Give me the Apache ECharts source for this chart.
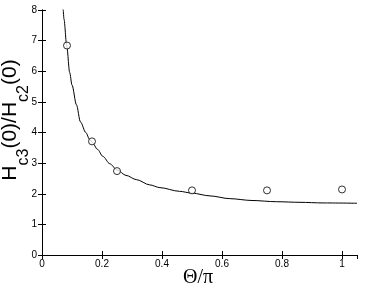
<!DOCTYPE html>
<html>
<head>
<meta charset="utf-8">
<script src="https://cdn.jsdelivr.net/npm/echarts@6/dist/echarts.min.js"></script>
<style>
html,body{margin:0;padding:0;background:#fff;}
#c{width:365px;height:291px;}
</style>
</head>
<body>
<div id="c"></div>
<script>
// Measured points (Θ/π, Hc3(0)/Hc2(0))
const pointX = [0.0833, 0.1667, 0.25, 0.5, 0.75, 1.0];
const pointY = [6.84, 3.71, 2.74, 2.11, 2.11, 2.14];

// Theory curve
const curveX = [0.068, 0.0705, 0.0733, 0.0823, 0.0923, 0.1, 0.115, 0.128, 0.146, 0.159, 0.167, 0.185, 0.203, 0.226, 0.25, 0.28, 0.315, 0.359, 0.393, 0.458, 0.5, 0.56, 0.626, 0.7, 0.781, 0.86, 0.937, 1.05];
const curveY = [8.4, 8.0, 7.7, 6.84, 5.96, 5.55, 4.9, 4.35, 4.0, 3.77, 3.68, 3.45, 3.22, 2.98, 2.78, 2.6, 2.46, 2.29, 2.2, 2.08, 2.02, 1.93, 1.84, 1.78, 1.74, 1.72, 1.70, 1.69];

const xTicks = [0, 0.2, 0.4, 0.6, 0.8, 1];
const yTicks = [0, 1, 2, 3, 4, 5, 6, 7, 8];

// Y-axis title pieces: [text, isSubscript]
const yTitleParts = [['H', false], ['c3', true], ['(0)/H', false], ['c2', true], ['(0)', false]];

const chart = echarts.init(document.getElementById('c'), null, {renderer: 'canvas'});

const SANS = 'Liberation Sans, Arial, sans-serif';
const tickFont = {fontFamily: SANS, fontSize: 10, color: '#000'};
const axisLine = {show: true, lineStyle: {color: '#000', width: 1}};
const axisTick = {show: true, inside: true, length: 4, lineStyle: {color: '#000', width: 1}};

// build rotated y title
const mainSize = 21, subSize = 16;
const ctx = document.createElement('canvas').getContext('2d');
function w(t, size) { ctx.font = size + 'px "Liberation Sans"'; return ctx.measureText(t).width; }
const widths = yTitleParts.map(p => w(p[0], p[1] ? subSize : mainSize));
const total = widths.reduce((a, b) => a + b, 0);
let cursor = -total / 2;
const titleChildren = yTitleParts.map((p, i) => {
  const el = {
    type: 'text',
    x: cursor,
    y: p[1] ? 14 : 0,
    style: {
      text: p[0], align: 'left', verticalAlign: 'middle',
      fontFamily: SANS, fontSize: p[1] ? subSize : mainSize, fill: '#000'
    }
  };
  cursor += widths[i];
  return el;
});

chart.setOption({
  backgroundColor: '#fff',
  animation: false,
  grid: {left: 42, right: 8, top: 10, bottom: 36, containLabel: false},
  xAxis: [{
    type: 'value', min: 0, max: 1.05, interval: 0.2, position: 'bottom',
    axisLine: axisLine, axisTick: axisTick, splitLine: {show: false},
    axisLabel: Object.assign({margin: 4, showMaxLabel: false,
      formatter: v => xTicks.indexOf(v) >= 0 ? String(v) : ''}, tickFont)
  }, {
    type: 'value', min: 0, max: 1.05, interval: 0.2, position: 'top',
    axisLine: axisLine, axisTick: axisTick, splitLine: {show: false},
    axisLabel: {show: false}
  }],
  yAxis: [{
    type: 'value', min: 0, max: 8, interval: 1, position: 'left',
    axisLine: axisLine, axisTick: axisTick, splitLine: {show: false},
    axisLabel: Object.assign({margin: 5, formatter: v => yTicks.indexOf(v) >= 0 ? String(v) : ''}, tickFont)
  }, {
    type: 'value', min: 0, max: 8, interval: 1, position: 'right',
    axisLine: axisLine, axisTick: axisTick, splitLine: {show: false},
    axisLabel: {show: false}
  }],
  series: [{
    type: 'line',
    data: curveX.map((x, i) => [x, curveY[i]]),
    showSymbol: false,
    smooth: 0.3,
    smoothMonotone: 'x',
    clip: true,
    lineStyle: {color: '#000', width: 1},
    silent: true
  }, {
    type: 'scatter',
    data: pointX.map((x, i) => [x, pointY[i]]),
    symbol: 'circle',
    symbolSize: 7,
    itemStyle: {color: '#fff', borderColor: '#000', borderWidth: 1},
    z: 3
  }],
  graphic: [{
    type: 'group',
    x: 10, y: 120,
    rotation: Math.PI / 2,
    children: titleChildren
  }, {
    type: 'text',
    x: 198, y: 278,
    style: {
      text: 'Θ/π',
      align: 'center',
      verticalAlign: 'middle',
      fontFamily: 'Liberation Serif, Times New Roman, serif',
      fontSize: 20,
      fill: '#000'
    }
  }]
});
</script>
</body>
</html>
